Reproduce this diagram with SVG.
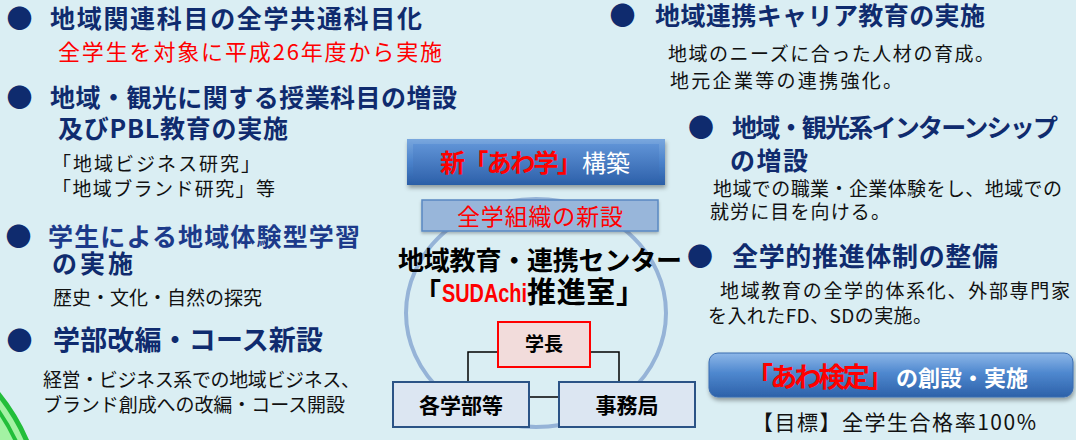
<svg xmlns="http://www.w3.org/2000/svg" width="1076" height="440" viewBox="0 0 1076 440">
<defs>
<style>
text{font-family:"Noto Sans CJK JP","Noto Sans",sans-serif;}
.h{font-weight:bold;fill:#0f2b6e;font-size:25px;}
.b{font-size:26px;fill:#0f2b6e;text-anchor:middle;}
.t{fill:#111;font-size:19px;}
.k{font-weight:bold;fill:#000;}
.box{fill:#DCE6F2;stroke:#2B5386;stroke-width:2;}
.ln{fill:none;stroke:#000;stroke-width:1.5;}
</style>
<linearGradient id="g1" x1="0" y1="0" x2="0" y2="1">
<stop offset="0" stop-color="#79A7DE"/>
<stop offset="0.5" stop-color="#4A82CB"/>
<stop offset="1" stop-color="#2B5EA6"/>
</linearGradient>
<linearGradient id="g1i" x1="0" y1="0" x2="0" y2="1">
<stop offset="0" stop-color="#5F93D6"/>
<stop offset="1" stop-color="#3467B0"/>
</linearGradient>
<linearGradient id="g2" x1="0" y1="0" x2="0" y2="1">
<stop offset="0" stop-color="#8DB7E8"/>
<stop offset="0.45" stop-color="#4F88CF"/>
<stop offset="1" stop-color="#2C61A9"/>
</linearGradient>
<filter id="sh" x="-10%" y="-20%" width="120%" height="150%">
<feDropShadow dx="1" dy="3" stdDeviation="2" flood-color="#000" flood-opacity="0.35"/>
</filter>
<filter id="sh2" x="-10%" y="-20%" width="120%" height="150%">
<feDropShadow dx="0" dy="2" stdDeviation="1.5" flood-color="#000" flood-opacity="0.25"/>
</filter>
</defs>
<rect x="0" y="0" width="1076" height="440" fill="#DAEEF3"/>

<g id="green-arc">
<circle cx="-157" cy="520" r="200" fill="#A3F2A3" stroke="#22BE3A" stroke-width="5"/>
<circle cx="-157" cy="520" r="190" fill="#A3F2A3" stroke="#22BE3A" stroke-width="4"/>
</g>

<g id="left-1">
<text class="b" x="19.5" y="27.5">●</text>
<text class="h" x="50" y="27.5" textLength="372" lengthAdjust="spacing">地域関連科目の全学共通科目化</text>
<text x="58" y="60" font-size="22" fill="#FF0000" textLength="384" lengthAdjust="spacing">全学生を対象に平成26年度から実施</text>
</g>
<g id="left-2">
<text class="b" x="19.5" y="106.5">●</text>
<text class="h" x="50" y="106.5" textLength="407" lengthAdjust="spacing">地域・観光に関する授業科目の増設</text>
<text class="h" x="58" y="137.5" textLength="230" lengthAdjust="spacing">及びPBL教育の実施</text>
<text class="t" x="52" y="170.5" font-size="20" textLength="208" lengthAdjust="spacing">「地域ビジネス研究」</text>
<text class="t" x="52" y="195.5" font-size="20" textLength="223" lengthAdjust="spacing">「地域ブランド研究」等</text>
</g>
<g id="left-3">
<text class="b" x="18.5" y="245.5">●</text>
<text class="h" x="48" y="245.5" style="fill:#1C3A8A" textLength="312" lengthAdjust="spacing">学生による地域体験型学習</text>
<text class="h" x="52" y="272.5" textLength="81" lengthAdjust="spacing">の実施</text>
<text class="t" x="53" y="305" textLength="209" lengthAdjust="spacing">歴史・文化・自然の探究</text>
</g>
<g id="left-4">
<text class="b" x="19.5" y="349.5">●</text>
<text class="h" x="53" y="350" style="font-size:27px" textLength="270" lengthAdjust="spacing">学部改編・コース新設</text>
<text class="t" x="43" y="387" textLength="317" lengthAdjust="spacing">経営・ビジネス系での地域ビジネス、</text>
<text class="t" x="43" y="412" textLength="302" lengthAdjust="spacing">ブランド創成への改編・コース開設</text>
</g>

<g id="center-ring">
<ellipse cx="536" cy="313" rx="130" ry="114" fill="none" stroke="#95B3D7" stroke-width="4"/>
</g>

<g id="awagaku">
<rect x="407" y="139" width="258" height="46" fill="url(#g1)" filter="url(#sh)"/>
<rect x="413" y="144" width="246" height="35" fill="url(#g1i)"/>
<text x="440" y="172" font-size="25" font-weight="bold" fill="#FF0000" textLength="142" lengthAdjust="spacing">新「あわ学」</text>
<text x="582" y="172" font-size="24" fill="#FFFFFF" textLength="48" lengthAdjust="spacing">構築</text>
</g>

<g id="zengaku">
<rect x="422" y="200" width="236" height="31" fill="#98B6DA" stroke="#5A88C2" stroke-width="1.5" filter="url(#sh2)"/>
<text x="457" y="225" font-size="23" fill="#FF0000" textLength="166" lengthAdjust="spacing">全学組織の新設</text>
</g>

<g id="center-title">
<text class="k" x="398" y="270" font-size="26" textLength="284" lengthAdjust="spacing">地域教育・連携センター</text>
<text class="k" x="414" y="303" font-size="27">「</text>
<text x="442" y="302" font-size="25" font-family="Liberation Sans, sans-serif" style="font-family:'Liberation Sans',sans-serif" font-weight="bold" fill="#FF0000" textLength="85" lengthAdjust="spacingAndGlyphs">SUDAchi</text>
<text class="k" x="527" y="303" font-size="29" textLength="118" lengthAdjust="spacing">推進室」</text>
</g>

<g id="connectors">
<polyline class="ln" points="498,352 468,352 468,382"/>
<polyline class="ln" points="590,352 619,352 619,382"/>
<line class="ln" x1="529" y1="397" x2="559" y2="397"/>
</g>

<g id="gakucho">
<rect x="498" y="322" width="92" height="45" fill="#F2DCDB" stroke="#FF0000" stroke-width="2"/>
<text class="k" x="544" y="351" font-size="19" text-anchor="middle">学長</text>
</g>
<g id="gakubu">
<rect class="box" x="393" y="382" width="136" height="45"/>
<text class="k" x="461" y="413" font-size="21" text-anchor="middle">各学部等</text>
</g>
<g id="jimukyoku">
<rect class="box" x="559" y="382" width="136" height="45"/>
<text class="k" x="627" y="413" font-size="21" text-anchor="middle">事務局</text>
</g>

<g id="right-1">
<text class="b" x="622.5" y="24.5">●</text>
<text class="h" x="655" y="24.5" textLength="330" lengthAdjust="spacing">地域連携キャリア教育の実施</text>
<text class="t" x="668" y="60.5" textLength="326" lengthAdjust="spacing">地域のニーズに合った人材の育成。</text>
<text class="t" x="670" y="87.5" textLength="232" lengthAdjust="spacing">地元企業等の連携強化。</text>
</g>
<g id="right-2">
<text class="b" x="701" y="136.5">●</text>
<text class="h" x="732" y="136.5" textLength="326" lengthAdjust="spacing">地域・観光系インターンシップ</text>
<text class="h" x="730" y="169.5" textLength="78" lengthAdjust="spacing">の増設</text>
<text class="t" x="713" y="195.5" textLength="349" lengthAdjust="spacing">地域での職業・企業体験をし、地域での</text>
<text class="t" x="710" y="219" textLength="180" lengthAdjust="spacing">就労に目を向ける。</text>
</g>
<g id="right-3">
<text class="b" x="700" y="265.5">●</text>
<text class="h" x="732" y="266" style="font-size:26px" textLength="266" lengthAdjust="spacing">全学的推進体制の整備</text>
<text class="t" x="720" y="297.5" font-size="20" textLength="350" lengthAdjust="spacing">地域教育の全学的体系化、外部専門家</text>
<text class="t" x="708" y="322.5" font-size="20" textLength="224" lengthAdjust="spacing">を入れたFD、SDの実施。</text>
</g>

<g id="awa-kentei">
<rect x="709" y="353" width="364" height="44" rx="9" fill="url(#g2)" stroke="#3A6CB0" stroke-width="1" filter="url(#sh)"/>
<text x="746" y="387" font-size="27" font-weight="bold" fill="#FF0000" textLength="148" lengthAdjust="spacing">「あわ検定」</text>
<text x="896" y="386" font-size="22" font-weight="bold" fill="#FFFFFF" textLength="132" lengthAdjust="spacing">の創設・実施</text>
<text x="752" y="430" font-size="21" fill="#111" textLength="284" lengthAdjust="spacing">【目標】全学生合格率100%</text>
</g>
</svg>
